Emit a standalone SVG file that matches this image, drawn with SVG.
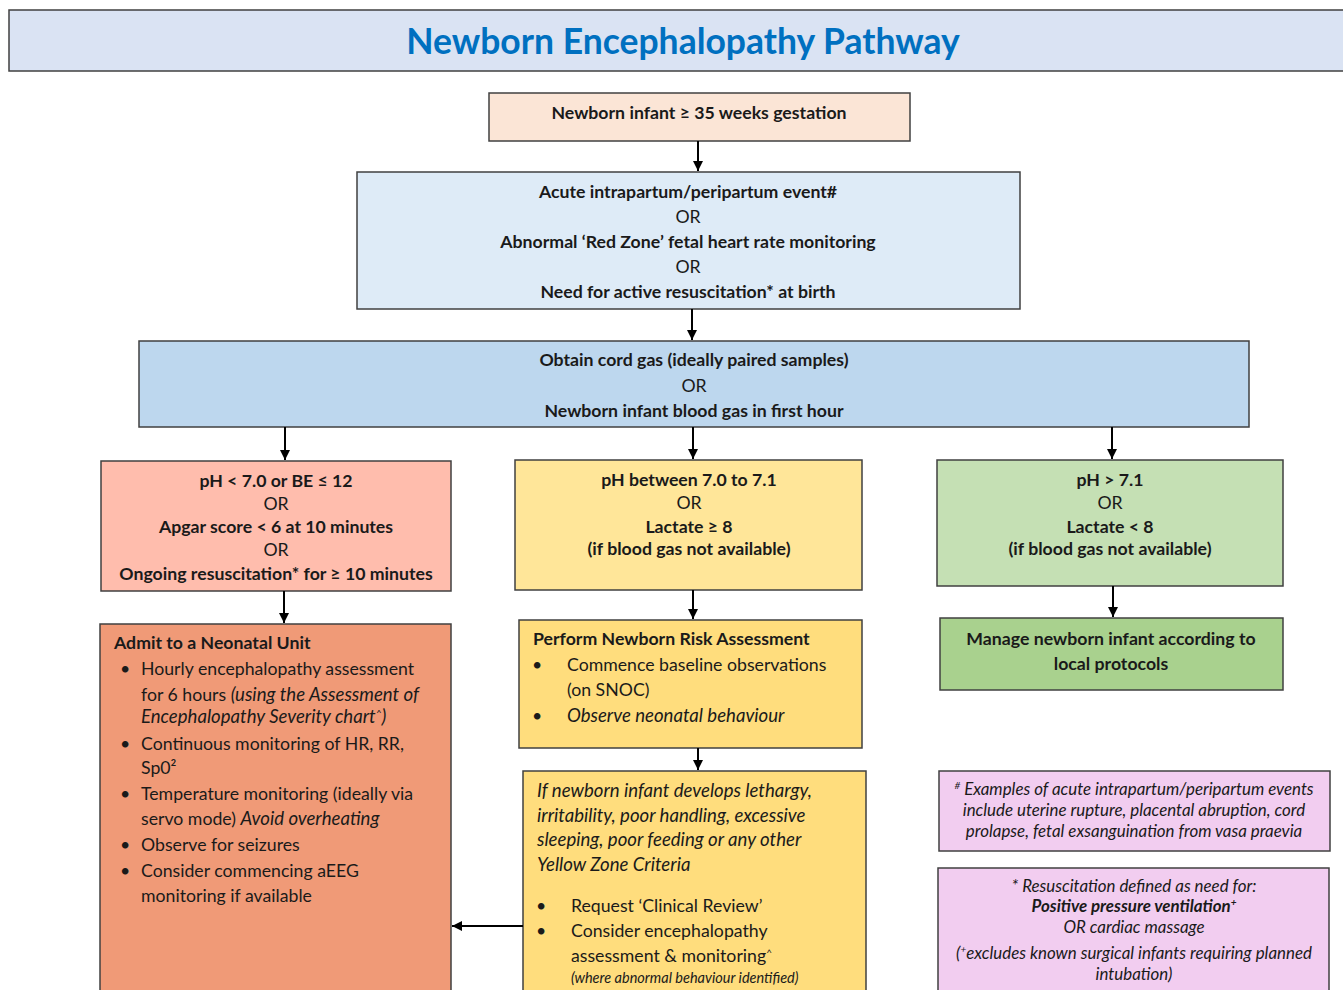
<svg xmlns="http://www.w3.org/2000/svg" width="1343" height="990" viewBox="0 0 1343 990">
<defs>
<marker id="ah" viewBox="0 0 10 10" refX="10" refY="5" markerWidth="10" markerHeight="10" markerUnits="userSpaceOnUse" orient="auto">
<path d="M0,0 L10,5 L0,10 z" fill="#000"/>
</marker>
<style>
.box{stroke:#404040;stroke-width:1.5}
text{font-family:Lato,"Open Sans","Liberation Sans",sans-serif;fill:#1a1a1a;font-size:17.7px}
.b{font-weight:bold}
.c{text-anchor:middle}
.i{font-style:italic}
.it{font-style:italic;font-size:18.6px}
.note{font-style:italic;font-size:16.9px}
.sup{font-size:10px}
.conn{stroke:#000;stroke-width:2;fill:none}
</style>
</defs>
<rect width="1343" height="990" fill="#fff"/>
<g id="title">
<rect class="box" x="9" y="10" width="1340" height="61" fill="#dae3f3"/>
<text x="683" y="54" class="c b" style="font-size:35.5px;fill:#0070c0">Newborn Encephalopathy Pathway</text>
</g>
<g id="n1">
<rect class="box" x="489" y="93" width="421" height="48" fill="#fbe5d6"/>
<text x="699" y="119" class="c b">Newborn infant ≥ 35 weeks gestation</text>
</g>
<g id="n2">
<rect class="box" x="357" y="172" width="663" height="137" fill="#deebf7"/>
<text x="688" y="198" class="c b">Acute intrapartum/peripartum event#</text>
<text x="688" y="223" class="c">OR</text>
<text x="688" y="248" class="c b">Abnormal ‘Red Zone’ fetal heart rate monitoring</text>
<text x="688" y="273" class="c">OR</text>
<text x="688" y="298" class="c b">Need for active resuscitation* at birth</text>
</g>
<g id="n3">
<rect class="box" x="139" y="341" width="1110" height="86" fill="#bdd7ee"/>
<text x="694" y="366" class="c b">Obtain cord gas (ideally paired samples)</text>
<text x="694" y="392" class="c">OR</text>
<text x="694" y="417" class="c b">Newborn infant blood gas in first hour</text>
</g>
<g id="n4">
<rect class="box" x="101" y="461" width="350" height="130" fill="#ffbdad"/>
<text x="276" y="487" class="c b">pH &lt; 7.0 or BE ≤ 12</text>
<text x="276" y="510" class="c">OR</text>
<text x="276" y="533" class="c b">Apgar score &lt; 6 at 10 minutes</text>
<text x="276" y="556" class="c">OR</text>
<text x="276" y="580" class="c b">Ongoing resuscitation* for ≥ 10 minutes</text>
</g>
<g id="n5">
<rect class="box" x="515" y="460" width="347" height="130" fill="#ffe699"/>
<text x="689" y="486" class="c b">pH between 7.0 to 7.1</text>
<text x="689" y="509" class="c">OR</text>
<text x="689" y="533" class="c b">Lactate ≥ 8</text>
<text x="689" y="555" class="c b">(if blood gas not available)</text>
</g>
<g id="n6">
<rect class="box" x="937" y="460" width="346" height="126" fill="#c5e0b4"/>
<text x="1110" y="486" class="c b">pH &gt; 7.1</text>
<text x="1110" y="509" class="c">OR</text>
<text x="1110" y="533" class="c b">Lactate &lt; 8</text>
<text x="1110" y="555" class="c b">(if blood gas not available)</text>
</g>
<g id="n7">
<rect class="box" x="100" y="624" width="351" height="380" fill="#f09a77"/>
<text x="114" y="649" class="b">Admit to a Neonatal Unit</text>
<text x="120" y="675">•</text><text x="141" y="675">Hourly encephalopathy assessment</text>
<text x="141" y="701">for 6 hours <tspan class="i" style="font-size:18.6px">(using the Assessment of</tspan></text>
<text x="141" y="723" class="it">Encephalopathy Severity chart<tspan baseline-shift="super" class="sup">^</tspan>)</text>
<text x="120" y="750">•</text><text x="141" y="750">Continuous monitoring of HR, RR,</text>
<text x="141" y="774">Sp0²</text>
<text x="120" y="800">•</text><text x="141" y="800">Temperature monitoring (ideally via</text>
<text x="141" y="825">servo mode) <tspan class="i" style="font-size:18.6px">Avoid overheating</tspan></text>
<text x="120" y="851">•</text><text x="141" y="851">Observe for seizures</text>
<text x="120" y="877">•</text><text x="141" y="877">Consider commencing aEEG</text>
<text x="141" y="902">monitoring if available</text>
</g>
<g id="n8">
<rect class="box" x="519" y="620" width="343" height="128" fill="#ffdd7d"/>
<text x="533" y="645" class="b">Perform Newborn Risk Assessment</text>
<text x="532" y="671">•</text><text x="567" y="671">Commence baseline observations</text>
<text x="567" y="696">(on SNOC)</text>
<text x="532" y="722">•</text><text x="567" y="722" class="it">Observe neonatal behaviour</text>
</g>
<g id="n9">
<rect class="box" x="523" y="771" width="343" height="233" fill="#ffdd7d"/>
<text x="537" y="797" class="it">If newborn infant develops lethargy,</text>
<text x="537" y="822" class="it">irritability, poor handling, excessive</text>
<text x="537" y="846" class="it">sleeping, poor feeding or any other</text>
<text x="537" y="871" class="it">Yellow Zone Criteria</text>
<text x="536" y="912">•</text><text x="571" y="912">Request ‘Clinical Review’</text>
<text x="536" y="937">•</text><text x="571" y="937">Consider encephalopathy</text>
<text x="571" y="962">assessment &amp; monitoring<tspan baseline-shift="super" class="sup">^</tspan></text>
<text x="571" y="983" class="i" style="font-size:14.5px">(where abnormal behaviour identified)</text>
</g>
<g id="n10">
<rect class="box" x="940" y="618" width="343" height="72" fill="#a9d18e"/>
<text x="1111" y="645" class="c b">Manage newborn infant according to</text>
<text x="1111" y="670" class="c b">local protocols</text>
</g>
<g id="n11">
<rect class="box" x="939" y="771" width="391" height="80" fill="#f2cdf0"/>
<text x="1134" y="795" class="c note"><tspan baseline-shift="super" class="sup">#</tspan> Examples of acute intrapartum/peripartum events</text>
<text x="1134" y="816" class="c note">include uterine rupture, placental abruption, cord</text>
<text x="1134" y="837" class="c note">prolapse, fetal exsanguination from vasa praevia</text>
</g>
<g id="n12">
<rect class="box" x="938" y="868" width="391" height="130" fill="#f2cdf0"/>
<text x="1134" y="892" class="c note">* Resuscitation defined as need for:</text>
<text x="1134" y="912" class="c note b">Positive pressure ventilation<tspan baseline-shift="super" class="sup">+</tspan></text>
<text x="1134" y="933" class="c note">OR cardiac massage</text>
<text x="1134" y="959" class="c note">(<tspan baseline-shift="super" class="sup">+</tspan>excludes known surgical infants requiring planned</text>
<text x="1134" y="980" class="c note">intubation)</text>
</g>
<g id="connectors">
<line class="conn" x1="698" y1="141" x2="698" y2="171" marker-end="url(#ah)"/>
<line class="conn" x1="692" y1="309" x2="692" y2="340" marker-end="url(#ah)"/>
<line class="conn" x1="285" y1="427" x2="285" y2="460" marker-end="url(#ah)"/>
<line class="conn" x1="693" y1="427" x2="693" y2="459" marker-end="url(#ah)"/>
<line class="conn" x1="1112" y1="427" x2="1112" y2="459" marker-end="url(#ah)"/>
<line class="conn" x1="284" y1="591" x2="284" y2="623" marker-end="url(#ah)"/>
<line class="conn" x1="693" y1="590" x2="693" y2="619" marker-end="url(#ah)"/>
<line class="conn" x1="1113" y1="586" x2="1113" y2="617" marker-end="url(#ah)"/>
<line class="conn" x1="698" y1="748" x2="698" y2="770" marker-end="url(#ah)"/>
<line class="conn" x1="523" y1="926" x2="452" y2="926" marker-end="url(#ah)"/>
</g>
</svg>
